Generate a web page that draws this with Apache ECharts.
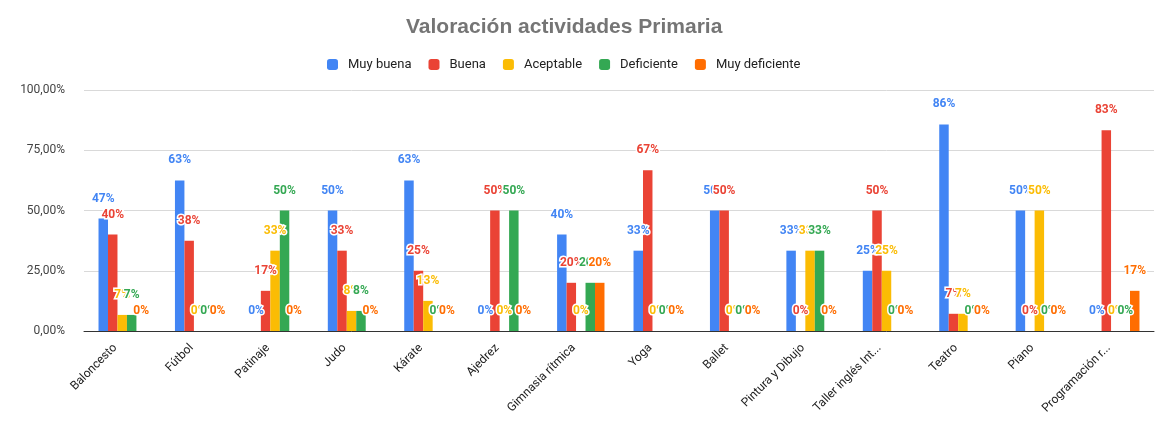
<!DOCTYPE html>
<html>
<head>
<meta charset="utf-8">
<script src="https://cdn.jsdelivr.net/npm/echarts@6/dist/echarts.min.js"></script>
<style>html,body{margin:0;padding:0;background:#fff}#c{width:1157px;height:427px}</style>
</head>
<body>
<div id="c"></div>
<script>
const categories = ['Baloncesto','Fútbol','Patinaje','Judo','Kárate','Ajedrez','Gimnasia rítmica','Yoga','Ballet','Pintura y Dibujo','Taller inglés Int...','Teatro','Piano','Programación r...'];
const seriesNames = ['Muy buena','Buena','Aceptable','Deficiente','Muy deficiente'];
const muyBuena     = [46.67, 62.5, 0,     50,    62.5, 0,  40, 33.33, 50, 33.33, 25, 85.71, 50, 0];
const buena        = [40,    37.5, 16.67, 33.33, 25,   50, 20, 66.67, 50, 0,     50, 7.14,  0,  83.33];
const aceptable    = [6.67,  0,    33.33, 8.33,  12.5, 0,  0,  0,     0,  33.33, 25, 7.14,  50, 0];
const deficiente   = [6.67,  0,    50,    8.33,  0,    50, 20, 0,     0,  33.33, 0,  0,     0,  0];
const muyDeficiente= [0,     0,    0,     0,     0,    0,  20, 0,     0,  0,     0,  0,     0,  16.67];
const yTicks = [0, 25, 50, 75, 100];
const colors = ['#4285F4','#EA4335','#FBBC04','#34A853','#FF6D01'];
const allData = [muyBuena, buena, aceptable, deficiente, muyDeficiente];

const chart = echarts.init(document.getElementById('c'));
chart.setOption({
  backgroundColor: '#fff',
  animation: false,
  color: colors,
  title: {
    text: 'Valoración actividades Primaria',
    left: 401, top: 12,
    textStyle: {fontFamily: 'Liberation Sans, Arial', fontSize: 21, fontWeight: 'bold', color: '#757575'}
  },
  legend: {
    data: seriesNames,
    left: 322, top: 53,
    itemWidth: 11, itemHeight: 11, itemGap: 17,
    icon: 'roundRect',
    textStyle: {fontFamily: 'Roboto, Arial', fontSize: 13, color: '#222', padding: [0, 0, 0, 5]}
  },
  grid: {left: 84, right: 3, top: 90, bottom: 96, containLabel: false},
  xAxis: {
    type: 'category',
    data: categories,
    axisTick: {show: false},
    axisLine: {lineStyle: {color: '#333', width: 1}},
    axisLabel: {rotate: 45, margin: 8, fontFamily: 'Roboto, Arial', fontSize: 12, color: '#222', interval: 0, padding: [0, 10, 0, 0]}
  },
  yAxis: {
    type: 'value', min: yTicks[0], max: yTicks[yTicks.length-1], interval: 25,
    axisLabel: {
      fontFamily: 'Roboto, Arial', fontSize: 12, color: '#444', margin: 19,
      formatter: v => v.toFixed(2).replace('.', ',') + '%'
    },
    splitLine: {lineStyle: {color: '#d9d9d9'}},
    axisLine: {show: false}, axisTick: {show: false}
  },
  series: seriesNames.map((n, i) => ({
    name: n,
    type: 'bar',
    data: allData[i],
    barGap: '0%',
    barCategoryGap: '38%',
    itemStyle: {color: colors[i]},
    label: {
      show: true, position: 'top', distance: 14,
      formatter: p => Math.round(p.value) + '%',
      color: colors[i], fontFamily: 'Roboto, Arial', fontSize: 12, fontWeight: 'bold',
      textBorderColor: '#fff', textBorderWidth: 3
    }
  }))
});
</script>
</body>
</html>
